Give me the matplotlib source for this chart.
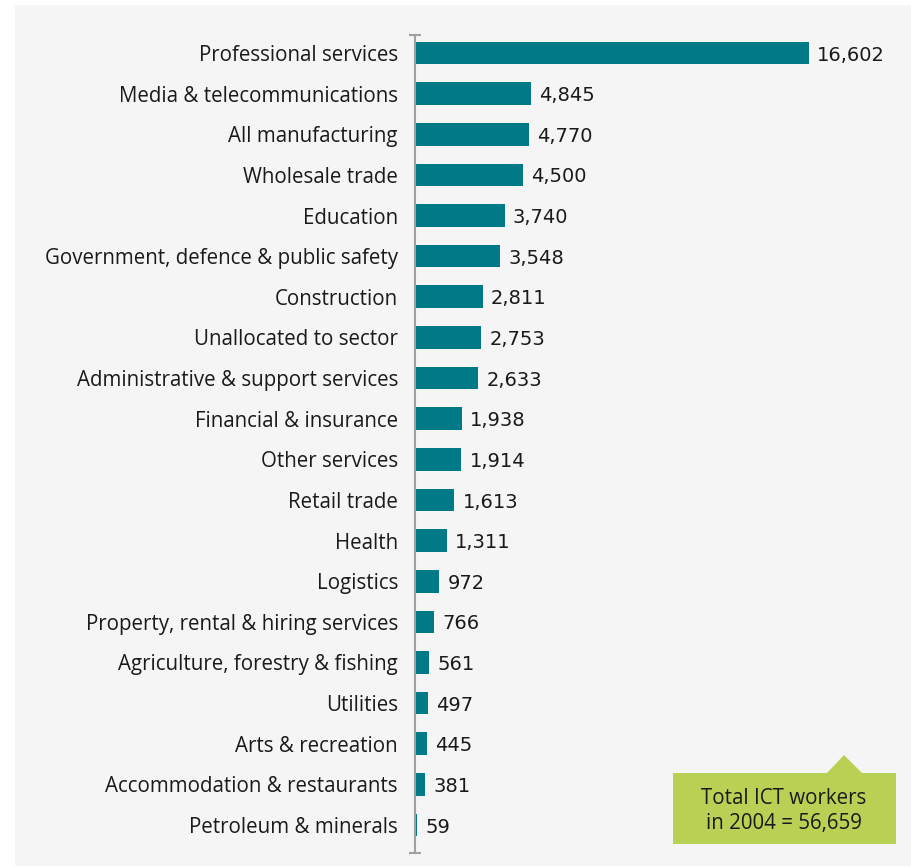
import matplotlib
matplotlib.use("Agg")
import matplotlib.pyplot as plt
from matplotlib.patches import Rectangle, Polygon

plt.rcParams['font.family'] = ['Open Sans', 'DejaVu Sans']

categories = [
    "Professional services", "Media & telecommunications", "All manufacturing",
    "Wholesale trade", "Education", "Government, defence & public safety",
    "Construction", "Unallocated to sector", "Administrative & support services",
    "Financial & insurance", "Other services", "Retail trade", "Health",
    "Logistics", "Property, rental & hiring services",
    "Agriculture, forestry & fishing", "Utilities", "Arts & recreation",
    "Accommodation & restaurants", "Petroleum & minerals",
]
values = [16602, 4845, 4770, 4500, 3740, 3548, 2811, 2753, 2633, 1938,
          1914, 1613, 1311, 972, 766, 561, 497, 445, 381, 59]
callout_text = "Total ICT workers\nin 2004 = 56,659"

W, H = 911, 867
FS = 14.8
fig = plt.figure(figsize=(W / 100, H / 100), dpi=100)
fig.patch.set_facecolor("white")

def fx(px):
    return px / W

def fy(py):
    return 1 - py / H

# light grey panel behind the chart
fig.patches.append(Rectangle((fx(15), fy(866)), fx(W - 15), (866 - 5) / H,
                             transform=fig.transFigure, facecolor="#f5f5f5",
                             edgecolor="none", zorder=-5))

ax = fig.add_axes([fx(416), fy(853), fx(489), (853 - 35) / H])
ax.set_facecolor("none")
ax.set_zorder(1)

for s in ["top", "right", "bottom"]:
    ax.spines[s].set_visible(False)
ax.spines["left"].set_color("#a0a0a0")
ax.spines["left"].set_linewidth(1.5)
ax.spines["left"].set_position(("outward", 1))

ypos = list(range(len(categories)))
bar_color = "#007a87"
ax.barh(ypos, values, height=0.556, color=bar_color, zorder=3)

for y, v in zip(ypos, values):
    ax.annotate(f"{v:,}", xy=(v, y), xytext=(6, -1.5), textcoords="offset points",
                ha="left", va="center", fontsize=14, family="DejaVu Sans",
                color="#1a1a1a")

ax.set_xlim(0, 20657)
ax.set_ylim(len(categories) - 1 + 0.689, -0.443)
ax.set_yticks(ypos)
ax.set_yticklabels(categories, fontsize=FS, color="#1a1a1a")
ax.tick_params(axis="y", length=0, pad=12)
ax.set_xticks([])

# end caps on the category axis line
ax.plot([-0.002, -0.002], [0, 1], transform=ax.transAxes, linestyle="none",
        marker="_", markersize=8, markeredgewidth=1.5, color="#a0a0a0",
        clip_on=False)

# callout box with pointer
green = "#b8d155"
box = [(673, 773), (827, 773), (844, 755), (862, 773), (896, 773),
       (896, 844), (673, 844)]
fig.patches.append(Polygon([(fx(x), fy(y)) for x, y in box], closed=True,
                           transform=fig.transFigure, facecolor=green,
                           edgecolor="none", zorder=3))
fig.text(fx(784), fy(811), callout_text, ha="center", va="center",
         fontsize=FS, color="#1a1a1a", linespacing=1.3, zorder=4)

fig.savefig("out.png", dpi=100, facecolor=fig.get_facecolor())
